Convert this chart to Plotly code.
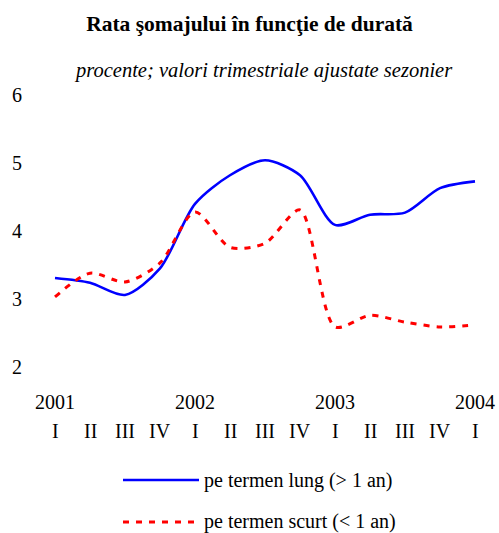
import plotly.graph_objects as go

years = ["2001", "2002", "2003", "2004"]
quarters = ["I", "II", "III", "IV", "I", "II", "III", "IV", "I", "II", "III", "IV", "I"]
long_term = [3.31, 3.24, 3.06, 3.45, 4.40, 4.82, 5.04, 4.82, 4.09, 4.24, 4.27, 4.63, 4.73]
short_term = [3.03, 3.38, 3.25, 3.53, 4.28, 3.76, 3.82, 4.31, 2.59, 2.76, 2.66, 2.59, 2.62]
name_long = "pe termen lung (> 1 an)"
name_short = "pe termen scurt (< 1 an)"

FONT = "Liberation Serif"
W, H = 499, 533
L, R, T, B = 40, 10, 95, 166
pw = W - L - R
ph = H - T - B

def px2x(p):
    return (p - L) / pw

def py2y(p):
    return (H - B - p) / ph

x = list(range(len(quarters)))

fig = go.Figure()
fig.add_trace(go.Scatter(x=x, y=long_term, mode="lines", name=name_long,
                         line=dict(color="#0000FF", width=2.6, shape="spline", smoothing=0.8),
                         showlegend=False, hoverinfo="skip"))
fig.add_trace(go.Scatter(x=x, y=short_term, mode="lines", name=name_short,
                         line=dict(color="#FF0000", width=3, shape="spline", smoothing=0.8, dash="6px,7px"),
                         showlegend=False, hoverinfo="skip"))

TS = 20
ann = []
for i, q in enumerate(quarters):
    ann.append(dict(x=i, y=py2y(431), xref="x", yref="paper", text=q, showarrow=False,
                    font=dict(family=FONT, size=TS, color="black"), xanchor="center", yanchor="middle"))
for k, yr in enumerate(years):
    ann.append(dict(x=4 * k, y=py2y(402), xref="x", yref="paper", text=yr, showarrow=False,
                    font=dict(family=FONT, size=TS, color="black"), xanchor="center", yanchor="middle"))

ann.append(dict(x=px2x(263), y=py2y(70), xref="paper", yref="paper",
                text="<i>procente; valori trimestriale ajustate sezonier</i>", showarrow=False,
                font=dict(family=FONT, size=20.5, color="black"), xanchor="center", yanchor="middle"))

# legend (custom)
shapes = [
    dict(type="line", xref="paper", yref="paper", x0=px2x(123), x1=px2x(199), y0=py2y(480), y1=py2y(480),
         line=dict(color="#0000FF", width=2.6)),
    dict(type="line", xref="paper", yref="paper", x0=px2x(123), x1=px2x(199), y0=py2y(522), y1=py2y(522),
         line=dict(color="#FF0000", width=3, dash="6px,7px")),
]
ann.append(dict(x=px2x(202), y=py2y(480), xref="paper", yref="paper", text=name_long, showarrow=False,
                font=dict(family=FONT, size=TS, color="black"), xanchor="left", yanchor="middle"))
ann.append(dict(x=px2x(202), y=py2y(521), xref="paper", yref="paper", text=name_short, showarrow=False,
                font=dict(family=FONT, size=TS, color="black"), xanchor="left", yanchor="middle"))

fig.update_layout(
    width=W, height=H,
    margin=dict(l=L, r=R, t=T, b=B),
    paper_bgcolor="white", plot_bgcolor="white",
    title=dict(text="<b>Rata şomajului în funcţie de durată</b>", x=0.5, xanchor="center",
               y=1 - 23 / H, yanchor="middle", font=dict(family=FONT, size=21.5, color="black")),
    xaxis=dict(range=[-15 / 35, 12 + 14 / 35], showgrid=False, zeroline=False, showline=False,
               showticklabels=False, ticks=""),
    yaxis=dict(range=[2, 6], tickvals=[2, 3, 4, 5, 6], showgrid=False, zeroline=False, showline=False,
               ticks="", ticklabelstandoff=17, tickfont=dict(family=FONT, size=TS, color="black")),
    annotations=ann, shapes=shapes, showlegend=False,
)
fig.write_html("out.html", config={"displayModeBar": False},
               post_script="document.body.style.margin='0';document.body.style.overflow='hidden';")
